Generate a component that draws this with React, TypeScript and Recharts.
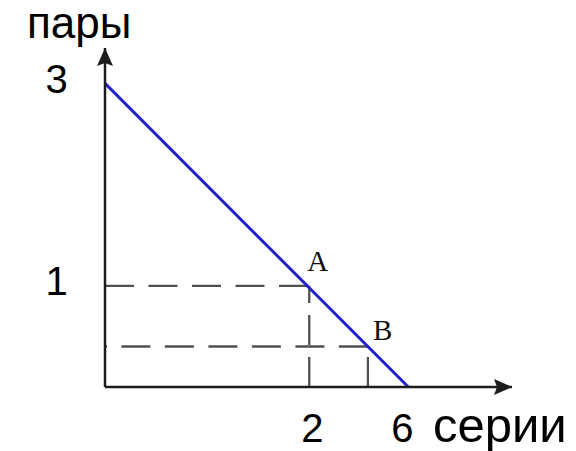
import React from 'react';
import { LineChart, Line, XAxis, YAxis, ReferenceLine, ReferenceDot, Label } from 'recharts';

// Budget line: pairs vs series
const lineX = [0, 6];
const lineY = [3, 0];

const pointNames = ['A', 'B'];
const pointX = [4.04, 5.2];
const pointY = [1, 0.4];

const xTicks = [4.04, 6];
const xTickLabels = ['2', '6'];
const yTicks = [1, 3];
const yTickLabels = ['1', '3'];

const xTitle = 'серии';
const yTitle = 'пары';

const xMax = 8.05;
const yMax = 3.35;

const data = lineX.map((x, i) => ({ x, y: lineY[i] }));

const SANS = '"Liberation Sans", Arial, sans-serif';
const SERIF = '"Liberation Serif", "Times New Roman", serif';
const AXIS = '#1c1c1c';
const DASH = '#505050';

const xTickDx = [3, -6];
const pointLabelOffset = [
  { dx: -2, dy: -15 },
  { dx: 5, dy: -7 },
];

const XTick = (props: any) => {
  const { x, y, payload, index } = props;
  const i = xTicks.indexOf(payload.value);
  return (
    <text x={x + (xTickDx[index] ?? 0)} y={y + 55} textAnchor="middle" fontFamily={SANS} fontSize={40} fill="#000">
      {xTickLabels[i]}
    </text>
  );
};

const YTick = (props: any) => {
  const { x, y, payload } = props;
  const i = yTicks.indexOf(payload.value);
  return (
    <text x={x - 48.5} y={y + 9.5} textAnchor="middle" fontFamily={SANS} fontSize={40} fill="#000">
      {yTickLabels[i]}
    </text>
  );
};

const ArrowUp = (props: any) => {
  const { cx, cy } = props;
  return <polygon points={`${cx},${cy} ${cx - 8},${cy + 18} ${cx},${cy + 15} ${cx + 8},${cy + 18}`} fill={AXIS} />;
};

const ArrowRight = (props: any) => {
  const { cx, cy } = props;
  return <polygon points={`${cx},${cy} ${cx - 18},${cy - 8} ${cx - 15},${cy} ${cx - 18},${cy + 8}`} fill={AXIS} />;
};

export default function App() {
  return (
    <LineChart
      width={576}
      height={451}
      data={data}
      margin={{ top: 40, right: 72, bottom: 12, left: 37 }}
      style={{ background: '#fff' }}
    >
      <XAxis
        type="number"
        dataKey="x"
        domain={[0, xMax]}
        ticks={xTicks}
        tick={<XTick />}
        tickLine={false}
        tickSize={0}
        tickMargin={0}
        height={60}
        axisLine={{ stroke: AXIS, strokeWidth: 2.5 }}
        allowDataOverflow
      >
        <Label
          content={(p: any) => {
            const vb = p.viewBox;
            return (
              <text x={vb.x + 328} y={vb.y + 55} fontFamily={SANS} fontSize={49} fill="#000">
                {xTitle}
              </text>
            );
          }}
        />
      </XAxis>
      <YAxis
        type="number"
        dataKey="y"
        domain={[0, yMax]}
        ticks={yTicks}
        tick={<YTick />}
        tickLine={false}
        tickSize={0}
        tickMargin={0}
        width={60}
        axisLine={{ stroke: AXIS, strokeWidth: 2.5 }}
        allowDataOverflow
      >
        <Label
          content={(p: any) => {
            const vb = p.viewBox;
            return (
              <text x={vb.x - 18} y={vb.y - 10} fontFamily={SANS} fontSize={44} fill="#000">
                {yTitle}
              </text>
            );
          }}
        />
      </YAxis>

      {pointX.map((px, i) => (
        <ReferenceLine
          key={`h${i}`}
          segment={i === 0 ? [{ x: 0, y: pointY[i] }, { x: px, y: pointY[i] }] : [{ x: px, y: pointY[i] }, { x: 0, y: pointY[i] }]}
          stroke={DASH}
          strokeWidth={2.3}
          strokeDasharray="29 14.5"
        />
      ))}
      {pointX.map((px, i) => (
        <ReferenceLine
          key={`v${i}`}
          segment={[{ x: px, y: 0 }, { x: px, y: pointY[i] }]}
          stroke={DASH}
          strokeWidth={2.3}
          strokeDasharray="30 12"
        />
      ))}

      <Line
        type="linear"
        dataKey="y"
        stroke="#2020cc"
        strokeWidth={3}
        dot={false}
        activeDot={false}
        isAnimationActive={false}
      />

      {pointX.map((px, i) => (
        <ReferenceDot
          key={`p${i}`}
          x={px}
          y={pointY[i]}
          r={0}
          shape={(props: any) => (
            <text
              x={props.cx + pointLabelOffset[i].dx}
              y={props.cy + pointLabelOffset[i].dy}
              fontFamily={SERIF}
              fontSize={29}
              fill="#111"
            >
              {pointNames[i]}
            </text>
          )}
        />
      ))}

      <ReferenceDot x={0} y={yMax} r={0} shape={<ArrowUp />} />
      <ReferenceDot x={xMax} y={0} r={0} shape={<ArrowRight />} />
    </LineChart>
  );
}
